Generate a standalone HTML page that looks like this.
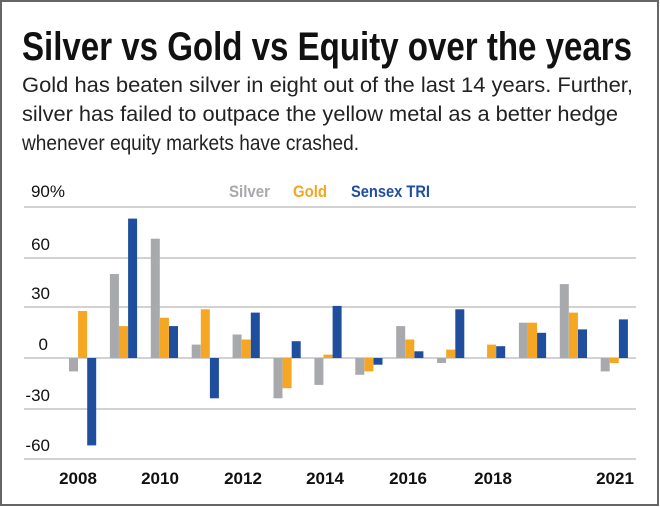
<!DOCTYPE html>
<html><head><style>
html,body{margin:0;padding:0;background:#fff;}
svg{display:block;}
text{font-family:"Liberation Sans Narrow","Liberation Sans",sans-serif;}
</style></head><body>
<svg width="660" height="507" viewBox="0 0 660 507">
<rect x="1" y="1" width="657" height="504" fill="#fff" stroke="#666" stroke-width="2"/>
<text x="22" y="60" font-size="40" font-weight="bold" fill="#111" textLength="610" lengthAdjust="spacingAndGlyphs">Silver vs Gold vs Equity over the years</text>
<text x="22" y="92" font-size="21" fill="#222" textLength="611" lengthAdjust="spacingAndGlyphs">Gold has beaten silver in eight out of the last 14 years. Further,</text>
<text x="22" y="121" font-size="21" fill="#222" textLength="596" lengthAdjust="spacingAndGlyphs">silver has failed to outpace the yellow metal as a better hedge</text>
<text x="22" y="150" font-size="21" fill="#222" textLength="337" lengthAdjust="spacingAndGlyphs">whenever equity markets have crashed.</text>
<text x="229" y="197" font-size="17" font-weight="bold" fill="#a7a9ac" textLength="41" lengthAdjust="spacingAndGlyphs">Silver</text>
<text x="293" y="197" font-size="17" font-weight="bold" fill="#f5a623" textLength="34" lengthAdjust="spacingAndGlyphs">Gold</text>
<text x="351" y="197" font-size="17" font-weight="bold" fill="#1f4e9f" textLength="79" lengthAdjust="spacingAndGlyphs">Sensex TRI</text>
<g stroke="#c4c4c4" stroke-width="1.5">
<line x1="24" x2="636" y1="207" y2="207"/><line x1="24" x2="636" y1="258" y2="258"/><line x1="24" x2="636" y1="307" y2="307"/><line x1="24" x2="636" y1="358" y2="358"/><line x1="24" x2="636" y1="409" y2="409"/><line x1="24" x2="636" y1="459" y2="459"/>
</g>
<g font-size="17" fill="#111" text-anchor="end">
<text x="65" y="197">90%</text><text x="50" y="250">60</text><text x="50" y="299">30</text><text x="48" y="350">0</text><text x="50" y="401">-30</text><text x="50" y="451">-60</text>
</g>
<g font-size="17" font-weight="bold" fill="#111" text-anchor="middle">
<text x="78" y="484">2008</text><text x="160" y="484">2010</text><text x="243" y="484">2012</text><text x="325" y="484">2014</text><text x="408" y="484">2016</text><text x="493" y="484">2018</text><text x="615" y="484">2021</text>
</g>
<g fill="#a7a9ac">
<rect x="69" y="358" width="9" height="13.4"/>
<rect x="109.9" y="274" width="9" height="84"/>
<rect x="150.8" y="238.7" width="9" height="119.3"/>
<rect x="191.7" y="344.6" width="9" height="13.4"/>
<rect x="232.6" y="334.5" width="9" height="23.5"/>
<rect x="273.5" y="358" width="9" height="40.3"/>
<rect x="314.4" y="358" width="9" height="26.9"/>
<rect x="355.3" y="358" width="9" height="16.8"/>
<rect x="396.2" y="326.1" width="9" height="31.9"/>
<rect x="437.1" y="358" width="9" height="5"/>
<rect x="518.9" y="322.7" width="9" height="35.3"/>
<rect x="559.8" y="284.1" width="9" height="73.9"/>
<rect x="600.7" y="358" width="9" height="13.4"/>
</g>
<g fill="#f5a623">
<rect x="78.1" y="311" width="9" height="47"/>
<rect x="119" y="326.1" width="9" height="31.9"/>
<rect x="159.9" y="317.7" width="9" height="40.3"/>
<rect x="200.8" y="309.3" width="9" height="48.7"/>
<rect x="241.7" y="339.5" width="9" height="18.5"/>
<rect x="282.6" y="358" width="9" height="30.2"/>
<rect x="323.5" y="354.6" width="9" height="3.4"/>
<rect x="364.4" y="358" width="9" height="13.4"/>
<rect x="405.3" y="339.5" width="9" height="18.5"/>
<rect x="446.2" y="349.6" width="9" height="8.4"/>
<rect x="487.1" y="344.6" width="9" height="13.4"/>
<rect x="528" y="322.7" width="9" height="35.3"/>
<rect x="568.9" y="312.6" width="9" height="45.4"/>
<rect x="609.8" y="358" width="9" height="5"/>
</g>
<g fill="#1f4e9f">
<rect x="87.2" y="358" width="9" height="87.4"/>
<rect x="128.1" y="218.6" width="9" height="139.4"/>
<rect x="169" y="326.1" width="9" height="31.9"/>
<rect x="209.9" y="358" width="9" height="40.3"/>
<rect x="250.8" y="312.6" width="9" height="45.4"/>
<rect x="291.7" y="341.2" width="9" height="16.8"/>
<rect x="332.6" y="305.9" width="9" height="52.1"/>
<rect x="373.5" y="358" width="9" height="6.7"/>
<rect x="414.4" y="351.3" width="9" height="6.7"/>
<rect x="455.3" y="309.3" width="9" height="48.7"/>
<rect x="496.2" y="346.2" width="9" height="11.8"/>
<rect x="537.1" y="332.8" width="9" height="25.2"/>
<rect x="578" y="329.4" width="9" height="28.6"/>
<rect x="618.9" y="319.4" width="9" height="38.6"/>
</g>
</svg>
</body></html>
